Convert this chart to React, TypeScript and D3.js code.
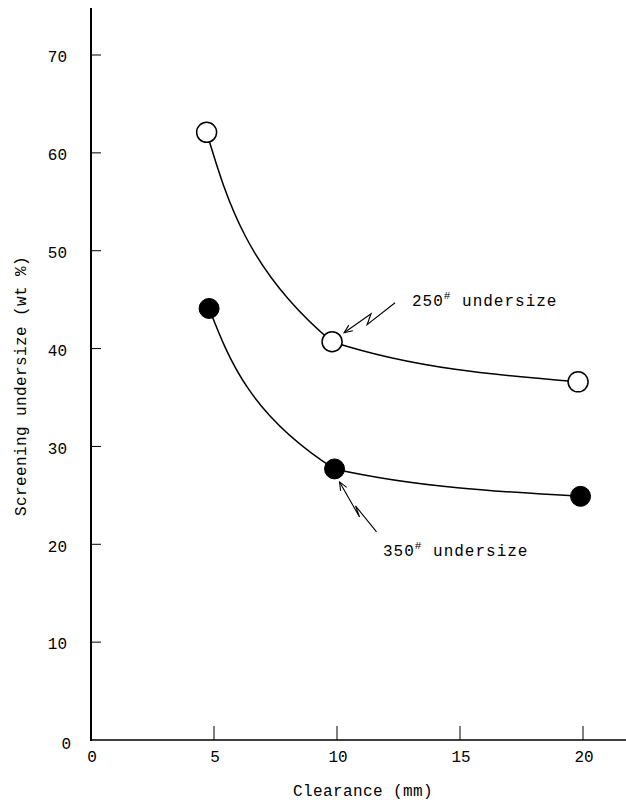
import React from "react";
import * as d3 from "d3";

// Screening undersize versus clearance for two mesh sizes
const clearance250 = [4.7, 9.8, 19.8];
const undersize250 = [62.1, 40.7, 36.6];
const clearance350 = [4.8, 9.9, 19.9];
const undersize350 = [44.1, 27.7, 24.9];

const xTicks = [0, 5, 10, 15, 20];
const yTicks = [0, 10, 20, 30, 40, 50, 60, 70];

const W = 626;
const H = 805;
const FONT = "'Liberation Mono', 'DejaVu Sans Mono', monospace";

export default function App() {
  const x = d3.scaleLinear().domain([0, 20]).range([91, 583]);
  const y = d3.scaleLinear().domain([0, 70]).range([740, 55]);

  // steep branch: smooth as a function of y; flat branch: smooth as a function of x
  const lineSteep = d3
    .line<[number, number]>()
    .x((d) => x(d[0]))
    .y((d) => y(d[1]))
    .curve(d3.curveMonotoneY);
  const lineFlat = d3
    .line<[number, number]>()
    .x((d) => x(d[0]))
    .y((d) => y(d[1]))
    .curve(d3.curveMonotoneX);

  const s250: [number, number][] = clearance250.map((c, i) => [c, undersize250[i]]);
  const s350: [number, number][] = clearance350.map((c, i) => [c, undersize350[i]]);

  const r = 10;

  const p250 = [x(clearance250[1]), y(undersize250[1])];
  const p350 = [x(clearance350[1]), y(undersize350[1])];

  const bolt250 = [
    [p250[0] + 63, p250[1] - 39],
    [p250[0] + 35, p250[1] - 17],
    [p250[0] + 39, p250[1] - 28],
    [p250[0] + 12, p250[1] - 9],
  ];
  const bolt350 = [
    [p350[0] + 42, p350[1] + 63],
    [p350[0] + 21, p350[1] + 37],
    [p350[0] + 25, p350[1] + 48],
    [p350[0] + 5, p350[1] + 13],
  ];

  const boltPath = (pts: number[][]) => d3.line()(pts as [number, number][]) || "";
  const head = (pts: number[][]) => {
    const [a, b] = [pts[pts.length - 2], pts[pts.length - 1]];
    const ang = Math.atan2(b[1] - a[1], b[0] - a[0]);
    const L = 9;
    const spread = 0.4;
    const p1 = [b[0] - L * Math.cos(ang - spread), b[1] - L * Math.sin(ang - spread)];
    const p2 = [b[0] - L * Math.cos(ang + spread), b[1] - L * Math.sin(ang + spread)];
    return `M${p1[0]},${p1[1]}L${b[0]},${b[1]}L${p2[0]},${p2[1]}`;
  };

  const series = [
    { id: "s250", pts: s250, mid: p250[0] },
    { id: "s350", pts: s350, mid: p350[0] },
  ];

  return (
    <svg
      width={W}
      height={H}
      style={{ position: "absolute", left: 0, top: 0, background: "#fff" }}
      fontFamily={FONT}
    >
      <defs>
        {series.map((s) => (
          <React.Fragment key={s.id}>
            <clipPath id={`${s.id}-left`}>
              <rect x={0} y={0} width={s.mid} height={H} />
            </clipPath>
            <clipPath id={`${s.id}-right`}>
              <rect x={s.mid} y={0} width={W - s.mid} height={H} />
            </clipPath>
          </React.Fragment>
        ))}
      </defs>
      <rect width={W} height={H} fill="#fff" />

      {/* axes */}
      <line x1={x(0)} y1={8} x2={x(0)} y2={y(0) + 1} stroke="#000" strokeWidth={2} />
      <line x1={x(0) - 1} y1={y(0)} x2={W} y2={y(0)} stroke="#000" strokeWidth={1.6} />

      {yTicks.map((t) => (
        <g key={`y${t}`}>
          {t > 0 && (
            <line x1={x(0)} y1={y(t)} x2={x(0) + 10} y2={y(t)} stroke="#000" strokeWidth={1} />
          )}
          <text
            x={t === 0 ? 71 : 67}
            y={y(t) + (t === 0 ? 5 : 3)}
            textAnchor="end"
            dominantBaseline="middle"
            fontSize={16}
            fill="#000"
          >
            {t}
          </text>
        </g>
      ))}

      {xTicks.map((t) => (
        <g key={`x${t}`}>
          {t > 0 && (
            <line x1={x(t)} y1={y(0)} x2={x(t)} y2={y(0) - 14} stroke="#000" strokeWidth={1} />
          )}
          <text
            x={x(t) + 1}
            y={758}
            textAnchor="middle"
            dominantBaseline="middle"
            fontSize={16}
            fill="#000"
          >
            {t}
          </text>
        </g>
      ))}

      <text x={363} y={792} textAnchor="middle" dominantBaseline="middle" fontSize={16} fill="#000" letterSpacing={0.4}>
        Clearance (mm)
      </text>
      <text
        transform={`translate(22,386) rotate(-90)`}
        textAnchor="middle"
        dominantBaseline="middle"
        fontSize={16}
        fill="#000"
        letterSpacing={0.4}
      >
        Screening undersize (wt %)
      </text>

      {/* curves */}
      {series.map((s) => (
        <g key={`c-${s.id}`}>
          <path
            d={lineSteep(s.pts) || ""}
            fill="none"
            stroke="#000"
            strokeWidth={1.5}
            clipPath={`url(#${s.id}-left)`}
          />
          <path
            d={lineFlat(s.pts) || ""}
            fill="none"
            stroke="#000"
            strokeWidth={1.5}
            clipPath={`url(#${s.id}-right)`}
          />
        </g>
      ))}

      {/* markers */}
      {s250.map((d, i) => (
        <circle key={`o${i}`} cx={x(d[0])} cy={y(d[1])} r={r} fill="#fff" stroke="#000" strokeWidth={1.5} />
      ))}
      {s350.map((d, i) => (
        <circle key={`f${i}`} cx={x(d[0])} cy={y(d[1])} r={r} fill="#000" stroke="#000" strokeWidth={1} />
      ))}

      {/* callout arrows */}
      <path d={boltPath(bolt250)} fill="none" stroke="#000" strokeWidth={1.1} />
      <path d={head(bolt250)} fill="none" stroke="#000" strokeWidth={1.1} />
      <path d={boltPath(bolt350)} fill="none" stroke="#000" strokeWidth={1.1} />
      <path d={head(bolt350)} fill="none" stroke="#000" strokeWidth={1.1} />

      {/* series labels */}
      <text x={412} y={306} fontSize={16} fill="#000" letterSpacing={1}>
        250
        <tspan fontSize={11} dy={-7}>#</tspan>
        <tspan dy={7}> undersize</tspan>
      </text>
      <text x={383} y={556} fontSize={16} fill="#000" letterSpacing={1}>
        350
        <tspan fontSize={11} dy={-7}>#</tspan>
        <tspan dy={7}> undersize</tspan>
      </text>
    </svg>
  );
}
